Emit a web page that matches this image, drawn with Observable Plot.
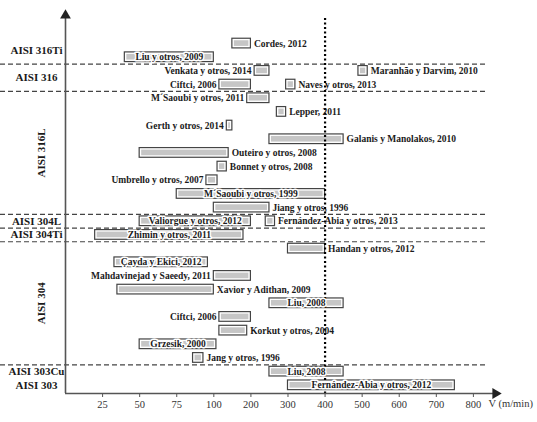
<!DOCTYPE html>
<html>
<head>
<meta charset="utf-8">
<script src="https://cdn.jsdelivr.net/npm/d3@7"></script>
<script src="https://cdn.jsdelivr.net/npm/@observablehq/plot@0.6"></script>
<style>
  body { margin: 0; background: #fff; }
  #chart01 svg, #chart01 svg text { font-family: 'Liberation Serif', 'Times New Roman', serif !important; }
</style>
</head>
<body>
<div id="chart01"></div>
<script>
// grupos de acero (de arriba a abajo)
const grupos = ["AISI 316Ti", "AISI 316", "AISI 316L", "AISI 304L", "AISI 304Ti", "AISI 304", "AISI 303Cu", "AISI 303"]

// estudios: autor, acero, rango de velocidad de corte (m/min), fila y donde va la etiqueta
const autores = [
  "Cordes, 2012", "Liu y otros, 2009",
  "Venkata y otros, 2014", "Maranhão y Darvim, 2010", "Ciftci, 2006", "Naves y otros, 2013",
  "M´Saoubi y otros, 2011", "Lepper, 2011", "Gerth y otros, 2014", "Galanis y Manolakos, 2010",
  "Outeiro y otros, 2008", "Bonnet y otros, 2008", "Umbrello y otros, 2007", "M´Saoubi y otros, 1999",
  "Jiang y otros, 1996",
  "Valiorgue y otros, 2012", "Fernández-Abia y otros, 2013",
  "Zhimin y otros, 2011",
  "Handan y otros, 2012", "Çayda y Ekici, 2012", "Mahdavinejad y Saeedy, 2011", "Xavior y Adithan, 2009",
  "Liu, 2008", "Ciftci, 2006", "Korkut y otros, 2004", "Grzesik, 2000", "Jang y otros, 1996",
  "Liu, 2008",
  "Fernández-Abia y otros, 2012"
]
const aceros = [
  "AISI 316Ti", "AISI 316Ti",
  "AISI 316", "AISI 316", "AISI 316", "AISI 316",
  "AISI 316L", "AISI 316L", "AISI 316L", "AISI 316L", "AISI 316L", "AISI 316L", "AISI 316L", "AISI 316L", "AISI 316L",
  "AISI 304L", "AISI 304L",
  "AISI 304Ti",
  "AISI 304", "AISI 304", "AISI 304", "AISI 304", "AISI 304", "AISI 304", "AISI 304", "AISI 304", "AISI 304",
  "AISI 303Cu",
  "AISI 303"
]
const vMin = [150, 40, 210, 490, 115, 295, 190, 270, 135, 250, 50, 110, 95, 75, 100, 50, 240, 20, 300, 33, 100, 35, 250, 115, 115, 50, 86, 250, 300]
const vMax = [200, 100, 250, 515, 200, 320, 250, 295, 150, 450, 140, 135, 110, 400, 250, 200, 265, 180, 400, 96, 200, 100, 450, 200, 190, 107, 93, 450, 750]
const filas = [1, 2, 3, 3, 4, 4, 5, 6, 7, 8, 9, 10, 11, 12, 13, 14, 14, 15, 16, 17, 18, 19, 20, 21, 22, 23, 24, 25, 26]
const etiqueta = [
  "der", "dentro",
  "izq", "der", "izq", "der",
  "izq", "der", "izq", "der", "der", "der", "izq", "dentro", "der",
  "dentro", "der",
  "dentro",
  "der", "dentro", "izq", "der", "dentro", "izq", "der", "dentro", "der",
  "dentro",
  "dentro"
]

const ticksV = [25, 50, 75, 100, 200, 300, 400, 500, 600, 700, 800]
const vLimite = 400

// eje no lineal: cada 25 hasta 100, luego cada 100
const idx = v => v <= 100 ? v / 25 : 4 + (v - 100) / 100

const data = autores.map((a, i) => ({
  autor: a, acero: aceros[i], vmin: vMin[i], vmax: vMax[i], fila: filas[i], pos: etiqueta[i]
}))

const grupoData = grupos.map(g => {
  const f = data.filter(d => d.acero === g).map(d => d.fila)
  return { acero: g, centro: d3.mean([d3.min(f), d3.max(f)]), fin: d3.max(f) + 0.5, girar: f.length > 4 }
})
// sin linea entre 303Cu y 303
const separadores = grupoData.slice(0, -2).map(g => g.fin)

const xMax = 11.65
const yTop = -1.2
const yBottom = 26.6

const serif = "'Liberation Serif', 'Times New Roman', serif"
const txt = { fontFamily: serif, fontWeight: "bold", fontSize: 9.5, fill: "#1a1a1a" }

let chart = Plot.plot({
  width: 537,
  height: 422,
  marginLeft: 65,
  marginRight: 40,
  marginTop: 13,
  marginBottom: 29,
  style: { fontFamily: serif, background: "#fff" },
  x: { domain: [0, xMax], axis: null },
  y: { domain: [yBottom, yTop], axis: null },
  marks: [
    // separadores de grupo
    Plot.ruleY(separadores, {
      stroke: "#444", strokeWidth: 1.2, strokeDasharray: "5,3", insetLeft: -65, insetRight: 10
    }),
    // barras
    Plot.rect(data, {
      x1: d => idx(d.vmin), x2: d => idx(d.vmax), y1: d => d.fila - 0.5, y2: d => d.fila + 0.5,
      insetTop: 2, insetBottom: 2, fill: "#fff", stroke: "#444", strokeWidth: 1.2
    }),
    Plot.rect(data, {
      x1: d => idx(d.vmin), x2: d => idx(d.vmax), y1: d => d.fila - 0.5, y2: d => d.fila + 0.5,
      insetTop: 4, insetBottom: 4, insetLeft: 2, insetRight: 2, fill: "#c6c6c6"
    }),
    // limite de 400 m/min
    Plot.ruleX([idx(vLimite)], { stroke: "#000", strokeWidth: 2.2, strokeDasharray: "2,2.5", insetTop: 5 }),
    // etiquetas
    Plot.text(data.filter(d => d.pos === "dentro"), {
      ...txt, x: d => (idx(d.vmin) + idx(d.vmax)) / 2, y: "fila", text: "autor",
      stroke: "#fff", strokeWidth: 3, paintOrder: "stroke"
    }),
    Plot.text(data.filter(d => d.pos === "izq"), {
      ...txt, x: d => idx(d.vmin), y: "fila", text: "autor", textAnchor: "end", dx: -3
    }),
    Plot.text(data.filter(d => d.pos === "der"), {
      ...txt, x: d => idx(d.vmax), y: "fila", text: "autor", textAnchor: "start", dx: 3
    }),
    // nombres de grupo
    Plot.text(grupoData.filter(g => !g.girar), {
      y: "centro", text: "acero", frameAnchor: "left", dx: -29, textAnchor: "middle",
      fontFamily: serif, fontWeight: "bold", fontSize: 11, fill: "#1a1a1a"
    }),
    Plot.text(grupoData.filter(g => g.girar), {
      y: "centro", text: "acero", frameAnchor: "left", dx: -24, rotate: -90, textAnchor: "middle",
      fontFamily: serif, fontWeight: "bold", fontSize: 11, fill: "#1a1a1a"
    }),
    // ejes
    Plot.ruleX([0], { y1: yTop, y2: yBottom, stroke: "#555", strokeWidth: 1.6 }),
    Plot.ruleY([yBottom], { x1: 0, x2: xMax, stroke: "#555", strokeWidth: 1.6 }),
    Plot.dot([[0, yTop]], { x: d => d[0], y: d => d[1], symbol: "triangle", r: 4, fill: "#222", dy: 2 }),
    Plot.dot([[xMax, yBottom]], { x: d => d[0], y: d => d[1], symbol: "triangle", r: 4, fill: "#222", rotate: 90, dx: -2 }),
    Plot.axisX({
      ticks: ticksV.map(idx), tickFormat: (d, i) => ticksV[i], tickSize: 4, tickPadding: 3,
      fontSize: 10.5, fontFamily: serif, color: "#333", stroke: "#555"
    }),
    Plot.text(["V (m/min)"], {
      frameAnchor: "bottom-right", dx: -9, dy: 13, textAnchor: "start",
      fontFamily: serif, fontSize: 10.5, fill: "#333"
    })
  ]
})

d3.select('#chart01').append(() => chart)
</script>
</body>
</html>
